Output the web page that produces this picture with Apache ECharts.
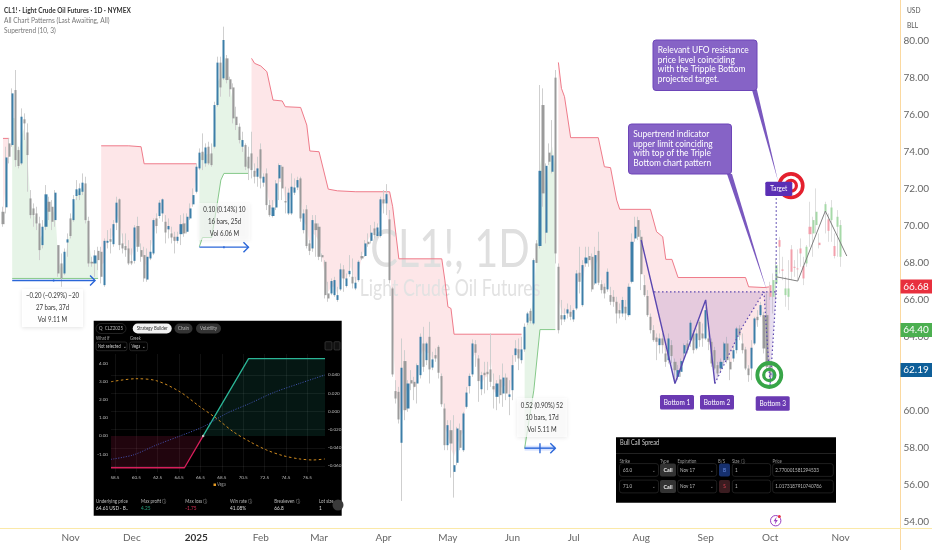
<!DOCTYPE html>
<html><head><meta charset="utf-8"><style>html,body{margin:0;padding:0;background:#fff}#c{width:932px;height:550px}</style>
<script src="https://cdn.jsdelivr.net/npm/echarts@6/dist/echarts.min.js"></script></head><body><div id="c"></div>
<script>
// ---------- price bars ----------
const opens=[70.76,71.0,74.45,74.36,77.33,74.09,73.37,75.75,75.04,71.48,
70.94,70.67,70.13,68.96,69.95,71.3,71.03,70.31,68.96,67.97,
67.43,69.1,70.4,70.31,71.61,71.66,71.84,72.29,70.27,68.06,
67.97,68.65,68.6,66.8,69.09,69.28,69.01,70.17,71.43,69.05,
68.91,68.78,68.1,68.11,69.99,68.69,68.42,67.1,68.24,68.51,
70.4,70.53,70.67,70.22,69.81,69.59,69.41,69.19,69.55,70.13,
69.68,70.4,71.16,71.84,73.1,74,73.37,74.27,73.91,74.27,
76.52,78.81,77.96,79.04,77.91,77.47,75.89,75.35,74.27,74.36,
73.73,73.91,72.97,72.65,74.13,72.33,72.83,71.12,70.53,70.99,
72.56,73.19,71.34,70.67,70.67,71.79,72.07,72.56,69.77,70.89,
69.05,68.78,70.13,69.95,68.42,68.06,66.35,66.35,66.26,66.0,
66.57,67.65,66.75,67.39,67.25,66.62,67.07,68.37,68.37,69.14,
69.19,69.86,69.45,69.45,71.43,71.21,70.35,66.62,61.08,61.04,
58.29,62.7,60.14,61.67,61.58,61.49,61.94,63.65,62.75,64.01,
62.35,63.02,63.47,61.89,60.14,58.16,58.97,56.72,57.21,58.97,
57.89,60.23,61.35,61.98,63.61,62.84,61.18,62.07,62.12,62.25,
61.35,60.77,61.71,60.95,61.81,60.77,61.13,63.02,63.34,62.75,
63.33,64.78,65.41,64.73,69.05,68.91,76.52,69.63,73.95,72.92,
78,67.79,65.18,64.95,65.27,65.36,64.95,65.54,67.47,65.72,
67.97,68.37,68.33,66.89,68.65,66.85,66.71,66.57,66.26,66.17,
65.9,65.45,65.27,65.63,65.18,66.98,69.32,70.31,69.41,66.8,
66.21,65.09,64.37,63.97,63.56,63.92,63.11,62.75,63.56,62.66,
61.85,62.12,63.11,63.65,63.83,64.19,63.38,64.82,64.19,63.92,
63.92,63.74,63.29,62.48,62.3,62.75,63.65,62.66,62.84,63.29,
64.46,63.65,63.33,62.3,62.3,63.65,65.09,65.18,65.18,65.18,62.66,61.76];
const closes=[70.09,73.69,73.73,77.15,73.55,73.23,75.89,75.53,73.82,70.58,
70.58,70.13,68.69,69.95,71.7,70.76,70.22,71.79,67.43,67.16,
68.6,69.27,69.45,71.44,71.97,72.02,72.33,70.31,67.97,67.97,
68.4,68.15,67.25,69.19,69.19,69.14,70.09,71.25,68.96,68.78,
68.69,67.97,67.97,69.91,68.87,68.33,67.16,68.33,68.6,70.31,
69.99,71.25,71.43,69.64,69.99,69.37,69.19,69.41,70.09,69.59,
70.49,70.94,71.66,73.19,73.95,73.55,74.23,73.37,73.28,76.52,
78.81,77.47,80.03,77.87,77.37,75.8,75.44,74.63,74.63,73.19,
73.1,73.01,72.65,73.1,72.56,72.65,71.12,70.58,70.99,72.29,
73.28,72.02,71.26,71.79,72.11,72.07,72.47,70.4,70.67,68.91,
68.65,70.31,69.77,68.33,68.3,66.26,66.08,67.02,67.07,66.26,
67.65,67.16,67.16,67.57,66.89,66.93,68.06,68.24,69.05,69.01,
69.63,69.5,69.91,71.43,71.21,71.71,67.07,61.98,60.68,59.55,
62.34,60.05,61.49,61.49,61.31,62.48,64.01,62.39,63.65,62.25,
62.79,62.84,62.07,60.37,58.16,59.24,58.25,57.08,59.06,58.02,
59.87,61.0,61.9,63.65,63.15,61.62,61.94,61.94,61.99,61.58,
61.17,61.49,60.86,61.81,60.95,60.9,62.48,63.38,62.84,63.33,
64.55,65.27,64.87,68.15,68.0,72.97,71.75,73.24,73.46,73.8,
68.51,64.37,64.95,65.18,65.49,65.09,65.45,67.43,66.98,67.88,
68.29,68.15,66.57,68.42,66.93,66.53,66.35,67.52,65.9,65.9,
65.27,65.27,66,65.27,66.71,69.14,69.95,69.41,67.39,66.26,
65.18,64.37,63.83,63.74,63.92,63.56,62.66,63.92,62.97,62.21,
62.21,62.7,63.56,63.29,64.77,63.29,64.19,63.83,63.92,65.45,
63.74,62.57,62.3,62.03,62.66,63.65,62.75,62.25,63.29,64.46,
64.1,63.29,62.3,61.94,63.42,65.0,64.91,65.72,63.38,62.39,61.85,62.21];
const highs=[71.03,74.27,74.72,77.42,78.41,74.27,76.34,76.07,75.53,71.93,
71.21,71.03,70.49,70.31,72.2,71.57,71.39,71.93,68.96,68.51,
68.78,69.59,70.67,71.66,72.47,72.29,72.83,72.65,70.49,68.33,
68.69,68.87,68.87,69.32,69.77,69.86,70.31,71.57,71.48,69.59,
69.59,69.23,68.78,70.04,70.49,69.05,68.87,68.78,69.23,70.4,
70.67,71.39,71.48,70.58,70.4,69.95,69.68,69.68,70.58,70.67,
70.67,71.21,72.02,73.37,74.18,74.99,74.45,74.54,74.45,76.7,
79.13,79.13,80.75,79.22,78.05,77.69,76.43,75.53,75.08,74.45,
74.27,75.08,73.37,73.73,74.45,72.83,73.1,71.39,71.39,72.47,
73.37,73.28,72.11,72.02,72.83,72.56,72.65,72.65,70.89,71.12,
69.23,70.58,70.58,70.13,68.51,68.15,66.98,67.16,67.25,66.71,
67.97,67.88,67.43,68.42,68.24,67.25,68.15,68.6,69.23,69.59,
70.04,70.22,70.13,71.57,71.93,72.25,70.85,66.71,61.67,61.31,
63.92,63.29,61.67,62.21,61.85,62.57,64.19,64.55,63.74,64.82,
63.2,63.38,63.56,62.03,60.41,59.51,59.51,59.78,59.15,59.33,
59.96,61.31,62.03,63.87,63.83,63.02,62.12,62.66,62.66,64.19,
62.03,61.67,61.94,62.57,62.03,61.67,63.02,63.83,63.92,64.01,
64.73,65.36,65.54,68.24,69.23,77.6,77.42,73.37,74.45,75.71,
78.41,67.97,66,65.54,65.81,65.72,65.54,67.61,68.87,68.15,
68.87,68.87,68.51,68.87,69.68,67.07,66.89,67.7,66.71,66.53,
66.17,65.81,66.17,66,66.89,69.59,70.49,70.49,69.77,67.34,
66.53,65.27,64.64,64.19,64.19,64.19,63.47,64.19,63.83,62.84,
62.48,62.84,63.65,63.83,64.91,64.37,64.46,64.91,64.73,65.63,
64.19,63.92,63.47,62.66,62.84,63.74,64.01,62.93,63.56,64.55,
64.64,64.19,63.47,62.48,63.83,65.09,65.45,65.9,65.36,66.35,62.84,62.57];
const lows=[69.95,70.67,73.37,74.27,73.19,73.1,73.28,74.63,71.84,70.4,
69.95,69.77,68.15,68.78,69.77,70.31,69.77,69.95,67.25,66.71,
67.34,68.33,69.32,70.22,71.39,71.39,71.66,70.13,67.79,67.79,
67.25,67.61,66.89,66.71,68.78,68.51,68.87,69.77,68.69,68.51,
68.33,67.88,67.88,67.97,68.6,68.06,66.98,66.98,68.15,68.42,
69.59,70.4,70.22,69.05,69.32,69.05,68.51,69.05,68.96,69.41,
69.59,70.31,71.03,71.75,73.01,73.01,73.19,73.28,73.19,74.18,
76.43,76.97,77.87,77.69,76.97,75.53,75.17,74.45,73.99,73.01,
72.47,72.56,72.29,72.11,72.02,72.11,70.85,70.49,70.45,70.85,
71.39,71.39,70.67,70.58,70.58,71.66,71.93,70.22,69.59,68.78,
68.42,68.6,68.33,68.15,68.06,66.08,65.9,66.26,66.17,65.9,
66.49,66.44,66.67,67.25,66.62,66.53,66.98,68.15,68.33,68.87,
69.05,69.32,69.37,69.37,70.67,70.58,66.89,61.85,60.41,59.33,
55.15,59.51,59.96,61.13,60.59,60.41,61.76,62.12,62.48,61.49,
62.21,62.66,61.76,60.23,57.89,57.89,56.41,55.33,57.08,57.89,
57.8,60.14,60.95,61.85,62.39,60.5,60.86,60.95,61.13,61.31,
60.14,60.05,60.41,60.23,60.59,59.78,60.59,62.66,62.21,62.57,
63.2,64.64,64.73,64.64,68.0,68.78,71.03,69.05,73.28,72.83,
67.97,64.19,64.64,64.82,65.0,64.91,64.82,65.45,66.35,65.63,
67.79,67.79,66.44,66.8,66.8,66.35,66.08,66.44,65.72,65.63,
64.73,65.0,65.09,64.91,65.09,66.89,69.14,69.23,66.53,66.17,
65.09,64.19,63.74,62.75,63.11,63.11,62.39,62.57,62.57,61.49,
61.67,61.85,62.75,63.11,63.47,63.11,63.29,63.47,63.47,63.83,
63.29,62.39,62.21,61.85,62.12,62.57,62.57,61.67,62.66,63.11,
63.83,63.11,62.21,61.58,61.67,63.56,64.55,65.09,63.11,62.21,61.67,61.67];
// ---------- projected (ghost) bars, from bar 250 on ----------
const ghostStart=250;
const ghostOpens=[66.8,66.17,66.89,69.23,67.65,66.26,66.17,68.73,67.79,67.7,68.78,67.83,67.97,69.95,69.59,70.04,69.09,null,70.76,70.35,70.31,68.91,69.95,68.33];
const ghostCloses=[66.17,67.07,67.88,68.87,67.57,66.62,66.62,67.52,67.73,67.65,68.51,67.16,68.87,69.55,70.31,70.76,68.96,null,71.17,69.73,70.99,68.37,70.49,70.04];
const ghostHighs=[66.98,67.43,68.24,69.41,68.33,67.25,68.15,68.96,68.15,68.73,69.32,68.33,68.96,71.3,70.49,72.02,69.59,null,71.3,70.67,71.39,69.59,70.85,70.31];
const ghostLows=[66.0,65.27,65.99,67.43,67.07,65.63,65.45,67.07,67.25,67.07,67.79,66.8,67.79,68.87,68.33,69.59,68.78,null,69.59,69.14,69.14,68.24,68.33,67.79];
const ghostPath=[[252,67.25],[259,67.02],[268,70.8],[275,68.37]];
// ---------- supertrend ----------
const upperSegs=[
 [[0,74.72],[2,74.72]],
 [[32,74.32],[41,74.32],[45,74.27],[46,73.35],[63,73.35]],
 [[81,79.04],[82,78.77],[84,78.63],[86,78.32],[88,76.79],[91,76.74],[92,76.43],[97,76.39],[99,75.44],[100,74.04],[103,74.0],[106,71.98],[109,71.89],[115,71.84],[126,71.84],[127,71.03],[129,68.22],[143,68.22],[144,67.07],[145,65.63],[146,65.54],[147,64.15],[169,64.15]],
 [[181,78.82],[182,77.42],[183,76.97],[185,74.76],[194,74.76],[196,73.19],[198,73.14],[200,71.39],[201,70.89],[211,70.89],[213,69.68],[215,69.41],[216,68.19],[218,68.19],[220,67.21],[242,67.21],[243,66.71],[248,66.67],[250,66.71]]];
const lowerSegs=[
 [[3,67.16],[31,67.16]],
 [[64,68.87],[65,69.37],[68,69.37],[70,71.39],[71,72.47],[72,72.83],[80,72.83]],
 [[170,57.98],[173,61.13],[175,64.4],[180,64.4]]];
// ---------- triple bottom pattern ----------
const patternSolid=[[208,69.23],[219,61.49],[229,66.0],[232,61.49]];
const patternDotted=[[232,61.49],[241,64.55],[248,66.44],[250,61.4],[252,66.44],[212,66.44]];
const patternFillA=[[212,66.44],[219,61.49],[229,66.0],[232,61.49],[241,64.55],[248,66.44]];
const patternFillB=[[248,66.44],[250,61.4],[252,66.44]];
const targetLine=[[252,66.44],[252,71.57]];
const rangeArrows=[[3,30,67.05,0],[64,80,68.85,0],[170,180,58.0,1]];
// ---------- axes ----------
const monthTicks={22:'Nov',42:'Dec',63:'2025',84:'Feb',103:'Mar',124:'Apr',145:'May',166:'Jun',186:'Jul',208:'Aug',229:'Sep',250:'Oct',273:'Nov'};
const priceTicks=[54,56,58,60,62,64,66,68,70,72,74,76,78,80];
const categoryCount=292;
// ---------- options inset ----------
const insetXTicks=[58.5,60.5,62.5,64.5,66.5,68.5,70.5,72.5,74.5,76.5];
const insetLeftTicks=[-1,0,1,2,3,4];
const insetRightTicks=[-0.06,-0.04,-0.02,0,0.02,0.04];
const payoffLoss=[[58.13,-1.75],[65,-1.75],[66.75,0]];
const payoffGain=[[66.75,0],[71,4.25],[78.15,4.25]];
const vegaCurve=[[58.13,0.0326],[60.46,0.0359],[62.39,0.0337],[64.57,0.0216],[66.44,0.0052],[68.0,-0.0077],[69.56,-0.0223],[71.12,-0.0333],[72.67,-0.0424],[74.23,-0.0487],[75.79,-0.0523],[77.04,-0.0534],[78.13,-0.0523]];
const pnlCurve=[[58.13,-0.0527],[60.21,-0.0479],[62.39,-0.0369],[64.57,-0.0271],[66.76,-0.0168],[68.94,-0.0022],[71.12,0.0088],[73.3,0.0205],[75.79,0.0308],[78.13,0.04]];

const FONT='Lato, sans-serif';
const categories=Array.from({length:categoryCount},(_,i)=>String(i));
function pad(a){return a.concat(Array(categoryCount-a.length).fill(['-','-','-','-']));}
const wicks=pad(opens.map((o,i)=>[o,closes[i],lows[i],highs[i]]));
const bodies=pad(opens.map((o,i)=>[o,closes[i],Math.min(o,closes[i]),Math.max(o,closes[i])]));
let gw=Array(ghostStart).fill(['-','-','-','-']),gb=gw.slice();
ghostOpens.forEach((o,i)=>{
 if(o==null){gw.push(['-','-','-','-']);gb.push(['-','-','-','-']);return;}
 const c=ghostCloses[i];gw.push([o,c,ghostLows[i],ghostHighs[i]]);gb.push([o,c,Math.min(o,c),Math.max(o,c)]);});
gw=pad(gw);gb=pad(gb);
const mid=i=>(highs[i]+lows[i])/2;

// graphic helpers
const g=[];
function R(x,y,w,h,fill,z,o){o=o||{};g.push({type:'rect',silent:true,z:z,shape:{x:x,y:y,width:w,height:h,r:o.r||0},style:{fill:fill,stroke:o.stroke||null,lineWidth:o.lw||0,shadowBlur:o.blur||0,shadowColor:o.sc||'transparent',shadowOffsetY:o.sy||0}});}
function T(x,y,t,size,fill,z,o){o=o||{};g.push({type:'text',silent:true,z:z,x:x,y:y,scaleX:o.sx||0.85,style:{text:t,font:(o.weight||'normal')+' '+size+'px '+(o.family||FONT),fill:fill,textAlign:o.align||'left',textVerticalAlign:'middle',align:o.align||'left',verticalAlign:'middle'}});}
function L(x1,y1,x2,y2,c,z,w){g.push({type:'line',silent:true,z:z,shape:{x1:x1,y1:y1,x2:x2,y2:y2},style:{stroke:c,lineWidth:w||1}});}
function C(x,y,r,c,w,z){g.push({type:'circle',silent:true,z:z,shape:{cx:x,cy:y,r:r},style:{fill:null,stroke:c,lineWidth:w}});}
function P(pts,fill,z){g.push({type:'polygon',silent:true,z:z,shape:{points:pts},style:{fill:fill}});}

// watermark (above the supertrend fill, below the bars)
T(450,250,'CL1!, 1D',53,'#dfdfdf',1.5,{align:'center',sx:.78});
T(450,289,'Light Crude Oil Futures',23,'#e2e2e2',1.5,{align:'center',sx:.77});
// legend texts
T(4,10,'CL1! · Light Crude Oil Futures · 1D · NYMEX',7.9,'#333',30,{weight:'bold',sx:.82});
T(4,20,'All Chart Patterns (Last Awaiting, All)',8,'#777',30,{sx:.82});
T(4,30,'Supertrend (10, 3)',8,'#777',30,{sx:.82});
// frame extensions
L(900.5,0,900.5,550,'#fbd9a0',20);
L(0,528.5,932,528.5,'#fbe9a8',20);
T(907,10,'USD',7.8,'#555',30);T(907,25.5,'BLL',7.8,'#555',30);
// price tags
R(900.5,279.5,31.5,14,'#e8303e',31);T(916,286.7,'66.68',10,'#fff',32,{align:'center',sx:1});
R(900.5,323,31.5,14,'#4caf50',31);T(916,330,'64.40',10,'#fff',32,{align:'center',sx:1});
R(900.5,363,31.5,14,'#0e5f99',31);T(916,370,'62.19',10,'#fff',32,{align:'center',sx:1});
// measure boxes
function box(x,y,w,h,lines,a){R(x,y,w,h,a,30,{blur:4,sc:'rgba(0,0,0,.12)',sy:1});const step=12;lines.forEach((t,i)=>T(x+w/2,y+h/2+(i-1)*step,t,7.6,'#333',31,{align:'center',sx:.8}));}
box(22,289,61,38,['−0.20 (−0.29%) −20','27 bars, 37d','Vol 9.11 M'],'rgba(255,255,255,.95)');
box(199,203,51,37,['0.10 (0.14%) 10','16 bars, 25d','Vol 6.06 M'],'rgba(255,255,255,.55)');
box(517,398,50,39,['0.52 (0.90%) 52','10 bars, 17d','Vol 5.11 M'],'rgba(255,255,255,.7)');
// callouts
function callout(x,y,w,h,tailA,tailB,tip,lines){
 P([tailA,tailB,tip],'#7a58bf',40);
 R(x,y,w,h,'#8663c6',41,{r:3,stroke:'#6d45b8',lw:1});
 lines.forEach((t,i)=>T(x+4.8,y+10.2+i*9.6,t,9.6,'#fff',42,{sx:.88}));
}
callout(653,40,104,50.5,[752,90],[757,90],[778,181],['Relevant UFO resistance','price level coinciding','with the Tripple Bottom','projected target.']);
callout(628.5,124,103,50,[727,174],[732,174],[767,291],['Supertrend indicator','upper limit coinciding','with top of the Triple','Bottom chart pattern']);
// target / bullseyes
C(791,185.7,11.8,'#e4202e',3.6,43);C(791,185.7,5.4,'#e4202e',3.2,43);
R(765.3,181.7,27,14.3,'#5b2fb5',44,{r:1.5});T(778.8,188.8,'Target',7.8,'#fff',45,{align:'center',sx:.8});
C(769.3,375,12,'#38a548',3.8,43);C(769.3,375,5.6,'#38a548',3.2,43);
// bottom labels
[[660,395,'Bottom 1'],[700,395,'Bottom 2'],[755.7,396.3,'Bottom 3']].forEach(b=>{R(b[0],b[1],34,14.4,'#6a3ab2',44,{r:1.5});T(b[0]+17,b[1]+7.2,b[2],7.8,'#fff',45,{align:'center',sx:.83});});
// lightning icon
C(775.7,520.7,5.2,'#9a3fc0',1,43);P([[776.6,516.8],[773.6,521.2],[775.5,521.2],[774.8,524.6],[777.8,520],[775.9,520]],'#9a3fc0',44);
g.push({type:'circle',silent:true,z:45,shape:{cx:779.3,cy:516.6,r:1.5},style:{fill:'#e8303e'}});
// ---- inset panel ----
const IZ=50;
R(93.7,320.7,248,195,'#000',IZ);
const it=(x,y,t,s,c,o)=>T(x,y,t,s,c,IZ+12,o);
function pill(x,y,w,h,f,st,t,c){R(x,y,w,h,f,IZ+11,{r:h/2,stroke:st,lw:st?0.5:0});it(x+w/2,y+h/2,t,5.2,c,{align:'center'});}
pill(96,323.5,30,10,'#000','#444','Q  CLZ2025','#bbb');
pill(132.7,323.5,39,10,'#f2f2f2',null,'Strategy Builder','#333');
pill(174.5,323.5,18,10,'#333',null,'Chain','#bbb');
pill(196,323.5,25,10,'#333',null,'Volatility','#bbb');
it(96,338.3,'What if',4.8,'#aaa');it(130,338.3,'Greek',4.8,'#aaa');
R(96,342,31,8.7,'#000',IZ+11,{r:2,stroke:'#444',lw:.5});it(98,346.4,'Not selected  ⌄',4.8,'#ccc');
R(129.5,342,18,8.7,'#000',IZ+11,{r:2,stroke:'#444',lw:.5});it(131.5,346.4,'Vega  ⌄',4.8,'#ccc');
R(325,341.7,7,8.3,'#111',IZ+11,{r:1,stroke:'#555',lw:.5});R(334,341.7,6,8.3,'#111',IZ+11,{r:1,stroke:'#555',lw:.5});
R(213.5,483.5,2.5,2.5,'#e59a23',IZ+11);it(217,484.8,'Vega',4.8,'#999');
[[96,'Underlying price','64.61 USD · B..','#ddd'],[141,'Max profit ⓘ','4.25','#26a17f'],[185.3,'Max loss ⓘ','-1.75','#e0305a'],[230,'Win rate ⓘ','41.08%','#ddd'],[274.3,'Breakeven ⓘ','66.8','#ddd'],[319,'Lot size','1','#ddd']].forEach(s=>{it(s[0],501,s[1],5.2,'#bbb');it(s[0],508,s[2],5.6,s[3]);});
g.push({type:'circle',silent:true,z:IZ+13,shape:{cx:338,cy:505,r:5.5},style:{fill:'#3a3a3a'}});it(338,505,'›',7,'#ddd',{align:'center',sx:1});
// ---- table panel ----
const TZ=50;
R(616,437.3,220,65.4,'#000',TZ);
L(616,453.5,836,453.5,'#222',TZ+1);
const tt=(x,y,t,s,c,o)=>T(x,y,t,s,c,TZ+3,o);
tt(620,443,'Bull Call Spread',6.6,'#ccc',{sx:.87});
[[619.5,'Strike'],[660,'Type'],[677.5,'Expiration'],[718,'B/S'],[732,'Size ⓘ'],[772.5,'Price']].forEach(h=>tt(h[0],461,h[1],5,'#999'));
[[470,'65.0','B','#16306e','#6a8fe8','1','2.770001581294533'],[486.5,'71.0','S','#3a1c20','#e04050','1','1.0173187910740786']].forEach(r=>{
 const y=r[0]-6.4,h=12.8,opt={r:2.5,stroke:'#333',lw:.6};
 R(619.5,y,39,h,'#000',TZ+2,opt);tt(623,r[0],r[1],5.4,'#bbb');tt(654,r[0],'⌄',5,'#999',{align:'center'});
 R(660,y,16,h,'#333',TZ+2,{r:2});tt(668,r[0],'Call',6.4,'#eee',{align:'center',weight:'bold'});
 R(677.7,y,39,h,'#000',TZ+2,opt);tt(680,r[0],'Nov 17',5.4,'#bbb');tt(712,r[0],'⌄',5,'#999',{align:'center'});
 R(719,y,11,h,r[3],TZ+2,{r:2});tt(724.5,r[0],r[2],5.6,r[4],{align:'center'});
 R(732.3,y,38.4,h,'#000',TZ+2,opt);tt(735,r[0],r[5],5.4,'#bbb');
 R(772.7,y,60.6,h,'#000',TZ+2,opt);tt(775.3,r[0],r[6],5.4,'#bbb');
});

const polyFill=(list,color)=>({type:'custom',z:1,silent:true,animation:false,clip:true,
 encode:{x:0,y:1},data:list.map((s,n)=>[s[0][0],s[0][1],n]),
 renderItem:(p,api)=>{const s=list[api.value(2)];const pts=s.map(q=>api.coord(q));
  for(let i=s[s.length-1][0];i>=s[0][0];i--){pts.push(api.coord([i,mid(i)]));}
  return {type:'polygon',shape:{points:pts},style:{fill:color}};}});
const staticPoly=(pts,color)=>({type:'custom',z:3,silent:true,animation:false,encode:{x:0,y:1},data:[pts[0]],
 renderItem:(p,api)=>({type:'polygon',shape:{points:pts.map(q=>api.coord(q))},style:{fill:color}})});
const line=(data,color,w,extra)=>Object.assign({type:'line',data:data,symbol:'none',silent:true,animation:false,z:4,lineStyle:{color:color,width:w},xAxisIndex:0,yAxisIndex:0},extra||{});

const series=[
 polyFill(upperSegs,'#fde6e8'),polyFill(lowerSegs,'#e6f4e7'),
 ...upperSegs.map(s=>line(s,'#ef7b8a',1,{z:2})),
 ...lowerSegs.map(s=>line(s,'#86c98a',1,{z:2})),
 {type:'candlestick',data:wicks,barWidth:1,z:2,silent:true,animation:false,itemStyle:{color:'#cfcfcf',color0:'#cfcfcf',borderColor:'#cfcfcf',borderColor0:'#cfcfcf',borderWidth:1}},
 {type:'candlestick',data:bodies,barWidth:2.6,z:3,silent:true,animation:false,itemStyle:{color:'#3c7ea8',color0:'#9b9b9b',borderColor:'#3c7ea8',borderColor0:'#9b9b9b',borderWidth:0}},
 {type:'candlestick',data:gw,barWidth:1,z:2,silent:true,animation:false,itemStyle:{color:'#dedede',color0:'#dedede',borderColor:'#dedede',borderColor0:'#dedede',borderWidth:1}},
 {type:'candlestick',data:gb,barWidth:2.6,z:3,silent:true,animation:false,itemStyle:{color:'#a6d9a8',color0:'#f3a0ac',borderColor:'#a6d9a8',borderColor0:'#f3a0ac',borderWidth:0}},
 staticPoly(patternFillA,'rgba(120,80,170,.18)'),staticPoly(patternFillB,'rgba(120,80,170,.18)'),
 line(patternSolid,'#5a47b0',1.4),
 line(patternDotted,'#5a47b0',1.2,{lineStyle:{color:'#5a47b0',width:1.2,type:[1.5,2.5]}}),
 line(targetLine,'#5a47b0',1.2,{lineStyle:{color:'#5a47b0',width:1.2,type:[1.5,2.5]}}),
 line(ghostPath,'#808080',1),
 {type:'custom',z:5,silent:true,animation:false,encode:{x:0,y:2},data:rangeArrows,
  renderItem:(p,api)=>{const a=api.coord([api.value(0),api.value(2)]),b=api.coord([api.value(1),api.value(2)]);const y=a[1],c=(a[0]+b[0])/2,st={stroke:'#2a66d8',lineWidth:1.4,fill:null};
   const kids=[];
   if(api.value(3))kids.push({type:'rect',shape:{x:a[0],y:y-2.5,width:b[0]-a[0],height:5},style:{fill:'rgba(41,98,255,.18)'}});
   kids.push({type:'line',shape:{x1:a[0],y1:y,x2:b[0],y2:y},style:st});
   kids.push({type:'polyline',shape:{points:[[b[0]-5,y-5],[b[0],y],[b[0]-5,y+5]]},style:st});
   kids.push({type:'line',shape:{x1:c,y1:y-(api.value(3)?5:1),x2:c,y2:y+(api.value(3)?5:1)},style:st});
   return {type:'group',children:kids};}},
 // inset
 {type:'line',xAxisIndex:1,yAxisIndex:1,data:payoffLoss,symbol:'none',z:IZ+4,silent:true,animation:false,lineStyle:{color:'#d81e5b',width:1.3},areaStyle:{color:'rgba(216,30,91,.22)'}},
 {type:'line',xAxisIndex:1,yAxisIndex:1,data:payoffGain,symbol:'none',z:IZ+4,silent:true,animation:false,lineStyle:{color:'#2bb596',width:1.3},areaStyle:{color:'rgba(43,181,150,.18)'}},
 {type:'line',xAxisIndex:1,yAxisIndex:2,data:vegaCurve,symbol:'none',smooth:.3,z:IZ+5,silent:true,animation:false,lineStyle:{color:'#e59a23',width:.9,type:[2.5,2.5]}},
 {type:'line',xAxisIndex:1,yAxisIndex:2,data:pnlCurve,symbol:'none',smooth:.3,z:IZ+5,silent:true,animation:false,lineStyle:{color:'#4a5cc8',width:.9,type:[1,1.5]}},
 {type:'scatter',xAxisIndex:1,yAxisIndex:1,data:[[66.75,0]],symbolSize:2.5,z:IZ+6,silent:true,animation:false,itemStyle:{color:'#ddd'}}
];
const faint='rgba(255,255,255,.13)';
const insetLabel={color:'#bbb',fontSize:4.6,fontFamily:FONT,margin:3};
const chart=echarts.init(document.getElementById('c'),null,{renderer:'canvas'});
chart.setOption({animation:false,backgroundColor:'#fff',
 grid:[{left:0.46,top:0,width:900.2,height:528,containLabel:false},{left:111,top:354,width:214,height:118.3}],
 xAxis:[
  {type:'category',gridIndex:0,data:categories,boundaryGap:true,axisLine:{show:false},axisTick:{show:false},splitLine:{show:false},
   axisLabel:{interval:0,margin:5,fontSize:10,color:'#666',fontFamily:FONT,hideOverlap:false,
    formatter:(v,i)=>{const t=monthTicks[i];return t?(t==='2025'?'{b|2025}':t):'';},rich:{b:{fontSize:10,fontWeight:'bold',color:'#333',fontFamily:FONT}}}},
  {type:'value',gridIndex:1,min:58.13,max:78.15,z:IZ+2,axisLine:{show:false},axisTick:{show:false,customValues:insetXTicks},
   splitLine:{show:true,lineStyle:{color:faint,width:.5}},axisLabel:Object.assign({customValues:insetXTicks,formatter:v=>v.toFixed(1)},insetLabel)}],
 yAxis:[
  {type:'value',gridIndex:0,position:'right',min:53.69,max:82.19,axisLine:{show:false},axisTick:{show:false,customValues:priceTicks},splitLine:{show:false},
   axisLabel:{customValues:priceTicks,margin:6,fontSize:10,color:'#666',fontFamily:FONT,formatter:v=>v.toFixed(2)}},
  {type:'value',gridIndex:1,position:'left',min:-2,max:4.5,z:IZ+2,axisLine:{show:false},axisTick:{show:false,customValues:insetLeftTicks},splitLine:{show:false},
   axisLabel:Object.assign({customValues:insetLeftTicks,formatter:v=>v.toFixed(2)},insetLabel)},
  {type:'value',gridIndex:1,position:'right',min:-0.06696,max:0.06308,z:IZ+2,axisLine:{show:false},axisTick:{show:false,customValues:insetRightTicks},
   splitLine:{show:true,lineStyle:{color:faint,width:.5}},axisLabel:Object.assign({customValues:insetRightTicks,formatter:v=>v.toFixed(3)},insetLabel)}],
 series:series,
 graphic:{elements:g}
});
</script></body></html>
